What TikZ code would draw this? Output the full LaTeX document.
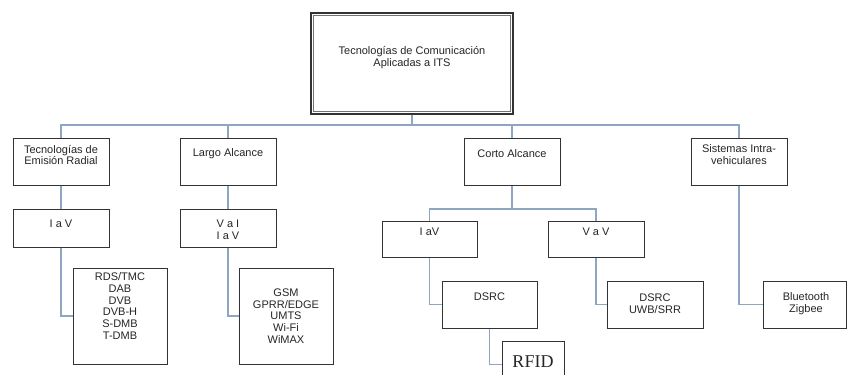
\documentclass[tikz,border=0pt]{standalone}
\usepackage{fontspec}
\setmainfont{Liberation Sans}
\newfontfamily\rfidfont{Liberation Serif}
\usetikzlibrary{positioning}
\definecolor{linkblue}{RGB}{140,166,196}

\begin{document}
\begin{tikzpicture}[x=1pt,y=-1pt,
  box/.style={draw=black!80,line width=1pt,fill=white,inner sep=0pt},
  txt/.style={inner sep=0pt,align=center,text=black!85,font=\fontsize{11}{11.8}\selectfont},
  link/.style={draw=linkblue,line width=1.1pt}]
\clip (0,0) rectangle (847,375);
\node[box,line width=1.4pt,minimum width=202pt,minimum height=101pt] (root) at (412,63.5) {};
\draw[black!55,line width=0.8pt] ([xshift=3pt,yshift=3pt]root.south west) rectangle ([xshift=-3pt,yshift=-3pt]root.north east);
\node[txt] (roottxt) at (412,57.5) {Tecnologías de Comunicación\\Aplicadas a ITS};
\coordinate (bus) at (412,125);
\coordinate (cbus) at (512,209);
\node[box,minimum width=96pt,minimum height=47pt] (tec) at (61,161.5) {};
\node[txt] (tectxt) at (61,155) {Tecnologías de\\Emisión Radial};
\node[box,minimum width=96pt,minimum height=47pt] (largo) at (228,161.5) {};
\node[txt] (largotxt) at (228,154) {Largo Alcance};
\node[box,minimum width=96pt,minimum height=47pt] (corto) at (512,161.5) {};
\node[txt] (cortotxt) at (512,154) {Corto Alcance};
\node[box,minimum width=96pt,minimum height=47pt] (intra) at (739,161.5) {};
\node[txt] (intratxt) at (739,154.5) {Sistemas Intra-\\vehiculares};
\node[box,minimum width=96pt,minimum height=38pt] (iav) at (61,228) {};
\node[txt] (iavtxt) at (61,224) {I a V};
\node[box,minimum width=96pt,minimum height=38pt] (vai) at (228,228) {};
\node[txt] (vaitxt) at (228,230) {V a I\\I a V};
\node[box,minimum width=95pt,minimum height=36pt] (iavc) at (429.5,239) {};
\node[txt] (iavctxt) at (429.5,232) {I aV};
\node[box,minimum width=96pt,minimum height=36pt] (vav) at (596,239) {};
\node[txt] (vavtxt) at (596,232) {V a V};
\node[box,minimum width=94pt,minimum height=96pt] (rds) at (120,316) {};
\node[txt] (rdstxt) at (120,306) {RDS/TMC\\DAB\\DVB\\DVB-H\\S-DMB\\T-DMB};
\node[box,minimum width=94pt,minimum height=96pt] (gsm) at (286,316) {};
\node[txt] (gsmtxt) at (286,316) {GSM\\GPRR/EDGE\\UMTS\\Wi-Fi\\WiMAX};
\node[box,minimum width=95pt,minimum height=47pt] (dsrc) at (489.5,304.5) {};
\node[txt] (dsrctxt) at (489.5,297) {DSRC};
\node[box,minimum width=96pt,minimum height=47pt] (uwb) at (655,304.5) {};
\node[txt] (uwbtxt) at (655,304) {DSRC\\UWB/SRR};
\node[box,minimum width=83pt,minimum height=47pt] (blue) at (804.5,304.5) {};
\node[txt] (bluetxt) at (806,304) {Bluetooth\\Zigbee};
\node[box,minimum width=62pt,minimum height=47pt] (rfid) at (533,364.5) {};
\node[txt,font=\rfidfont\fontsize{18}{19}\selectfont] (rfidtxt) at (533,362) {RFID};
\draw[link] (root.south) -- (root.south |- bus);
\draw[link] (tec.north) |- (bus) -| (intra.north);
\draw[link] (largo.north) -- (largo.north |- bus);
\draw[link] (corto.north) -- (corto.north |- bus);
\draw[link] (tec) -- (iav);
\draw[link] (largo) -- (vai);
\draw[link] (corto.south) -- (cbus);
\draw[link] (iavc.north) |- (cbus) -| (vav.north);
\draw[link] (iav.south) |- (rds.west);
\draw[link] (vai.south) |- (gsm.west);
\draw[link] (iavc.south) |- (dsrc.west);
\draw[link] (vav.south) |- (uwb.west);
\draw[link] (intra.south) |- (blue.west);
\draw[link] (dsrc.south) |- (rfid.west);
\end{tikzpicture}
\end{document}
